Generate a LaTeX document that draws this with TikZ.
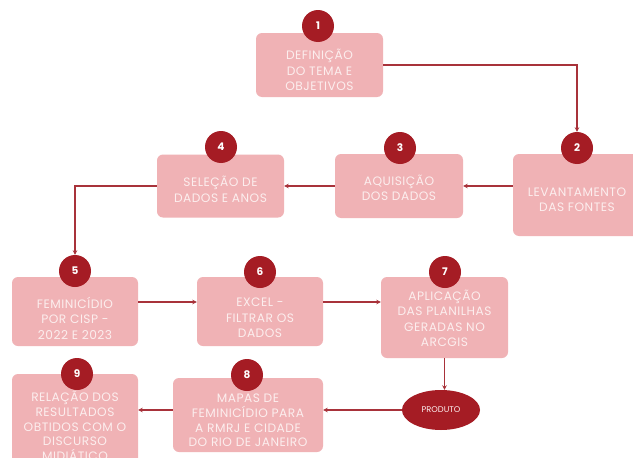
\documentclass[tikz,border=0pt]{standalone}
\usepackage{fontspec}
\setmainfont{Poppins}
\usetikzlibrary{arrows.meta,shapes.geometric}
\definecolor{boxfill}{HTML}{F0B2B5}
\definecolor{boxtext}{HTML}{FCEEEE}
\definecolor{numred}{HTML}{A51C24}
\definecolor{linered}{HTML}{A8323A}
\tikzset{
  stepbox/.style={fill=boxfill, rounded corners=6pt, inner sep=0pt},
  steptext/.style={align=center, text=boxtext, inner sep=0pt,
    font=\fontsize{12.2}{15.5}\selectfont\addfontfeature{LetterSpace=4}},
  numcirc/.style={circle, fill=numred, minimum size=32pt, inner sep=0pt, text=white,
    font=\fontsize{10.5}{12}\selectfont\bfseries},
  arr/.style={draw=linered, line width=1.1pt, -{Stealth[length=4.5pt,width=4.5pt]}},
  prod/.style={ellipse, fill=numred, minimum width=78pt, minimum height=40pt, inner sep=0pt,
    text=boxtext, font=\fontsize{8.3}{9}\selectfont}
}
\begin{document}
\begin{tikzpicture}[x=1pt,y=-1pt]
\useasboundingbox (0,0) rectangle (633,458);
\clip (0,0) rectangle (633,458);
\fill[white] (0,0) rectangle (633,458);
% boxes
\node[stepbox, minimum width=127pt, minimum height=64pt] (b1) at (319.5,65) {};
\node[stepbox, minimum width=128pt, minimum height=82pt] (b2) at (577,195) {};
\node[stepbox, minimum width=128pt, minimum height=64pt] (b3) at (399,186) {};
\node[stepbox, minimum width=127pt, minimum height=63pt] (b4) at (220.5,186) {};
\node[stepbox, minimum width=126pt, minimum height=69pt] (b5) at (75,311.5) {};
\node[stepbox, minimum width=126pt, minimum height=69pt] (b6) at (260,311.5) {};
\node[stepbox, minimum width=127pt, minimum height=81pt] (b7) at (444.5,317.5) {};
\node[stepbox, minimum width=150pt, minimum height=74pt] (b8) at (248,415) {};
\node[stepbox, minimum width=126pt, minimum height=104pt] (b9) at (75,426) {};
% texts
\node[steptext] (t1) at (319.5,70) {DEFINIÇÃO\\DO TEMA E\\OBJETIVOS};
\node[steptext] (t2) at (577,199.5) {LEVANTAMENTO\\DAS FONTES};
\node[steptext] (t3) at (399,188) {AQUISIÇÃO\\DOS DADOS};
\node[steptext] (t4) at (220.5,189.5) {SELEÇÃO DE\\DADOS E ANOS};
\node[steptext] (t5) at (75,318) {FEMINICÍDIO\\POR CISP -\\2022 E 2023};
\node[steptext] (t6) at (260,318) {EXCEL -\\FILTRAR OS\\DADOS};
\node[steptext] (t7) at (444.5,318.5) {APLICAÇÃO\\DAS PLANILHAS\\GERADAS NO\\ARCGIS};
\node[steptext, font=\fontsize{12.2}{14.8}\selectfont\addfontfeature{LetterSpace=4}] (t8) at (248,420.5) {MAPAS DE\\FEMINICÍDIO PARA\\A RMRJ E CIDADE\\DO RIO DE JANEIRO};
\node[steptext, font=\fontsize{12.2}{14.6}\selectfont\addfontfeature{LetterSpace=4}] (t9) at (75,426) {RELAÇÃO DOS\\RESULTADOS\\OBTIDOS COM O\\DISCURSO\\MIDIÁTICO};
% numbers
\node[numcirc] (c1) at (318,26) {1};
\node[numcirc] (c2) at (577,148) {2};
\node[numcirc] (c3) at (400,148) {3};
\node[numcirc] (c4) at (221,147) {4};
\node[numcirc] (c5) at (75,271) {5};
\node[numcirc] (c6) at (260,272) {6};
\node[numcirc] (c7) at (445,272) {7};
\node[numcirc] (c8) at (247,375) {8};
\node[numcirc] (c9) at (77,374) {9};
% product
\node[prod] (p) at (441,410) {PRODUTO};
% connectors
\draw[arr] (b1.east) -| (c2.north);
\draw[arr] (b2.west |- b3.east) -- (b3.east);
\draw[arr] (b3.west) -- (b4.east);
\draw[arr] (b4.west) -| (c5.north);
\draw[arr] ([yshift=9.5pt]b5.east) -- ([yshift=9.5pt]b6.west);
\draw[arr] ([yshift=9.5pt]b6.east) -- ([yshift=15.5pt]b7.west);
\draw[arr] (b7.south) -- (b7.south |- p.north);
\draw[arr] (p.west) -- (b8.east |- p.west);
\draw[arr] ([yshift=5pt]b8.west) -- (b9.east |- p.west);
\end{tikzpicture}
\end{document}
